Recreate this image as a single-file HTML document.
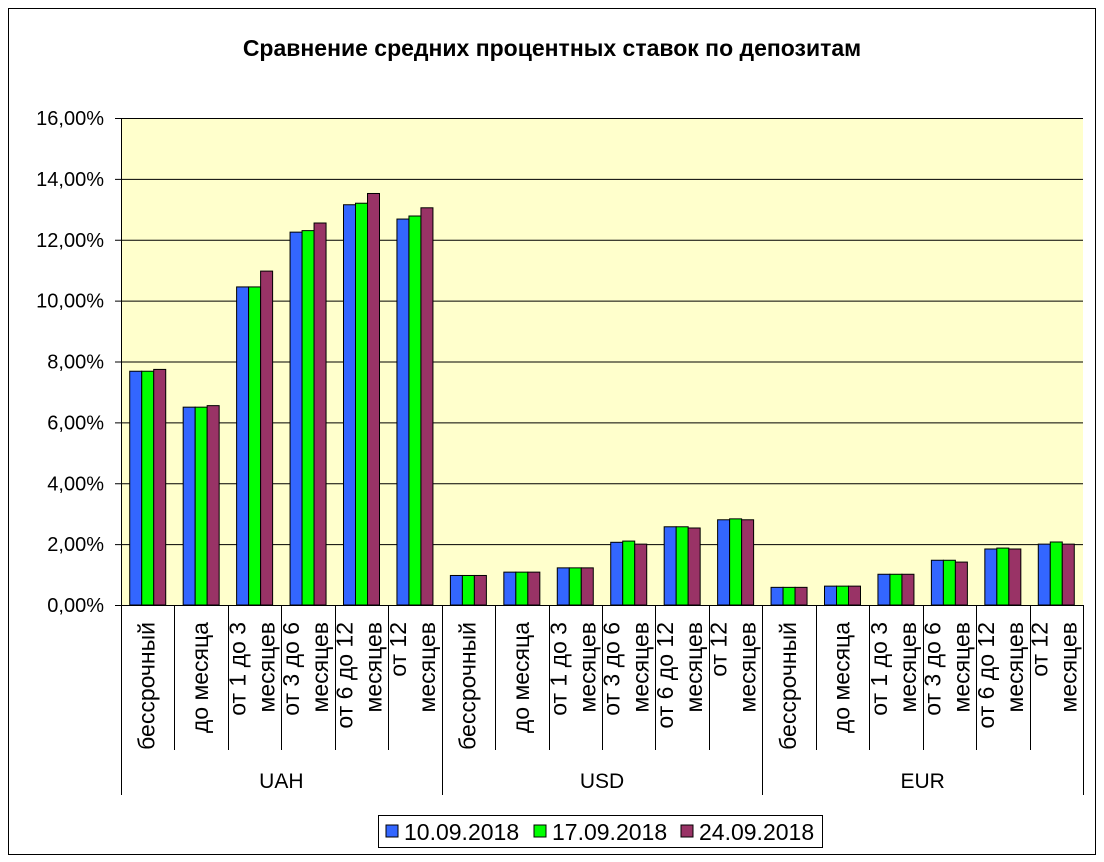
<!DOCTYPE html>
<html><head><meta charset="utf-8"><style>
body{margin:0;background:#fff;}
svg{display:block;font-family:"Liberation Sans",Arial,sans-serif;}
</style></head><body>
<svg id="chart" width="1104" height="862" viewBox="0 0 1104 862" xmlns="http://www.w3.org/2000/svg">
<rect x="8.5" y="8.5" width="1087" height="846" fill="#fff" stroke="#000" stroke-width="1"/>
<text x="552" y="56" text-anchor="middle" font-size="23" font-weight="bold">Сравнение средних процентных ставок по депозитам</text>
<rect x="121" y="118" width="962" height="487" fill="#ffffcc"/>
<g id="grid"></g><g id="bars"></g><g id="axes"></g>
<g>
<rect x="378.5" y="815.5" width="444" height="32" fill="#fff" stroke="#000"/>
<g id="legend"></g>
</g>
</svg>
<script>
const groups = ["UAH","USD","EUR"];
const categories = [["бессрочный"],["до месяца"],["от 1 до 3","месяцев"],["от 3 до 6","месяцев"],["от 6 до 12","месяцев"],["от 12","месяцев"]];
const seriesNames = ["10.09.2018","17.09.2018","24.09.2018"];
const s1 = [7.68,6.50,10.45,12.25,13.15,12.68, 0.97,1.08,1.22,2.06,2.57,2.80, 0.58,0.62,1.01,1.47,1.84,2.00];
const s2 = [7.68,6.50,10.45,12.30,13.20,12.78, 0.97,1.08,1.22,2.10,2.57,2.83, 0.58,0.62,1.01,1.47,1.87,2.07];
const s3 = [7.74,6.55,10.97,12.55,13.52,13.05, 0.97,1.08,1.22,2.00,2.53,2.80, 0.58,0.62,1.01,1.41,1.84,2.00];
const yTicks = [0,2,4,6,8,10,12,14,16];
const yTickLabels = ["0,00%","2,00%","4,00%","6,00%","8,00%","10,00%","12,00%","14,00%","16,00%"];
const colors = ["#3366ff","#00ff00","#993366"];

const NS="http://www.w3.org/2000/svg";
const X0=121,X1=1083,Y0=605,Y1=118,YMAX=16;
const N=groups.length*categories.length;
const cw=(X1-X0)/N;
const y=v=>Y0-(v/YMAX)*(Y0-Y1);
const xc=i=>X0+cw*(i+0.5);
function mk(tag,parent,attrs){const e=document.createElementNS(NS,tag);for(const k in attrs)e.setAttribute(k,attrs[k]);document.getElementById(parent).appendChild(e);return e;}

yTicks.forEach((t,i)=>{
  const g=mk("line","grid",{x1:X0-6,x2:X1,y1:y(t)+0.5,y2:y(t)+0.5,stroke:"#000","stroke-width":1});
  
  
  const l=mk("text","axes",{x:X0-17,y:y(t)+7,"text-anchor":"end","font-size":20});
  l.textContent=yTickLabels[i];
  
  
});
const series=[s1,s2,s3];
const bw=12;
series.forEach((s,si)=>{
  s.forEach((v,i)=>{
    const r=mk("rect","bars",{x:xc(i)-18+si*bw,y:y(v),width:bw,height:Y0-y(v),fill:colors[si],stroke:"#000","stroke-width":1});
    
    
  });
});
const ax=mk("line","axes",{x1:X0+0.5,x2:X0+0.5,y1:Y1,y2:Y0,stroke:"#000"});


const bx=mk("line","axes",{x1:X0,x2:X1,y1:Y0+0.5,y2:Y0+0.5,stroke:"#000"});


for(let i=0;i<=N;i++){
  const xx=Math.round(X0+cw*i)+0.5;
  const isG=i%categories.length===0;
  const d=mk("line","axes",{x1:xx,x2:xx,y1:Y0,y2:isG?795:750,stroke:"#000"});
  
  
}
for(let i=0;i<N;i++){
  const c=categories[i%categories.length];
  c.forEach((line,li)=>{
    const bxp=c.length===1?xc(i)+7:xc(i)-9+li*29;
    const t=mk("text","axes",{x:bxp,y:622,"text-anchor":"end","font-size":23,transform:`rotate(-90 ${bxp} 622)`});
    t.textContent=line;
    
    
  });
}
groups.forEach((g,gi)=>{
  const cx=X0+cw*categories.length*(gi+0.5);
  const t=mk("text","axes",{x:cx,y:788,"text-anchor":"middle","font-size":21});
  t.textContent=g;
  
  
});
const lx=[386,534,681];
seriesNames.forEach((n,i)=>{
  const r=mk("rect","legend",{x:lx[i],y:825,width:12,height:12,fill:colors[i],stroke:"#000"});
  
  
  const t=mk("text","legend",{x:lx[i]+18,y:840,"font-size":23});
  t.textContent=n;
  
  
});
</script>
</body></html>
